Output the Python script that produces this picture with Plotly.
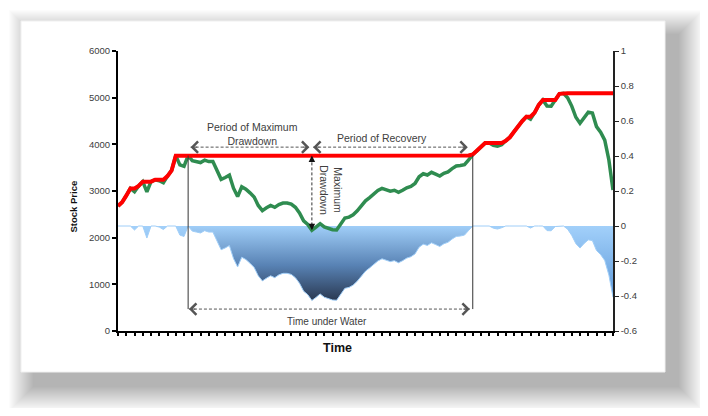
import numpy as np
import plotly.graph_objects as go

# data
time = list(range(121))
price = [2679, 2760, 2900, 3055, 2985, 3110, 3200, 2980, 3200, 3240,
         3220, 3175, 3320, 3440, 3755, 3560, 3530, 3760, 3650, 3630,
         3610, 3660, 3630, 3630, 3450, 3250, 3290, 3340, 3060, 2880,
         3090, 3040, 2960, 2870, 2690, 2580, 2640, 2690, 2650, 2710,
         2743, 2743, 2720, 2650, 2530, 2360, 2285, 2160, 2225, 2300,
         2230, 2200, 2170, 2165, 2290, 2420, 2440, 2490, 2575, 2680,
         2790, 2860, 2945, 3010, 3055, 3020, 2995, 3015, 2970, 3015,
         3070, 3100, 3160, 3306, 3370, 3343, 3400, 3360, 3320, 3379,
         3410, 3480, 3536, 3545, 3565, 3665, 3785, 3860, 3940, 4030,
         4030, 3980, 3960, 3990, 4075, 4151, 4270, 4390, 4500, 4593,
         4540, 4680, 4845, 4950, 4820, 4815, 4935, 5082, 5093, 5000,
         4820, 4580, 4451, 4585, 4690, 4670, 4380, 4260, 4090, 3664,
         3021]
time_ticks = list(range(0, 121, 2))
price_ticks = [0, 1000, 2000, 3000, 4000, 5000, 6000]
dd_ticks = [-0.6, -0.4, -0.2, 0, 0.2, 0.4, 0.6, 0.8, 1]
dd_tick_labels = ['-0.6', '-0.4', '-0.2', '0', '0.2', '0.4', '0.6', '0.8', '1']

FONT = 'Liberation Sans, Arial, sans-serif'
TXT = '#404040'
ARROW = '#555555'

p = np.array(price, dtype=float)
peak = np.maximum.accumulate(p)
drawdown = p / peak - 1

trough = int(np.argmin(drawdown))
start = int(np.argmax(p[:trough + 1]))
recover = trough + int(np.argmax(p[trough:] >= peak[trough]))

fig = go.Figure()

# underwater area, split so the main drawdown gets the darker gradient
light = [[0, 'rgb(88,148,214)'], [1, 'rgb(162,208,250)']]
dark = [[0, 'rgb(36,48,70)'], [0.5, 'rgb(88,130,180)'], [1, 'rgb(160,206,248)']]
for a, b, cs in [(0, start, light), (start, recover, dark), (recover, len(time) - 1, light)]:
    fig.add_trace(go.Scatter(x=time[a:b + 1], y=drawdown[a:b + 1], yaxis='y',
                             mode='lines', fill='tozeroy',
                             line=dict(color='rgb(160,206,248)', width=1),
                             fillgradient=dict(type='vertical', colorscale=cs,
                                               start=-0.45, stop=0),
                             showlegend=False, hoverinfo='skip'))

fig.add_trace(go.Scatter(x=time, y=p, yaxis='y2', mode='lines',
                         line=dict(color='#2f8c50', width=3.5),
                         showlegend=False, name='Price'))
fig.add_trace(go.Scatter(x=time, y=peak, yaxis='y2', mode='lines',
                         line=dict(color='#ff0000', width=4),
                         showlegend=False, name='Running max'))

# plot area on screen (the page body adds an 8px margin)
BODY = 8
L, T, W, H = 118, 51, 495, 280


def px(xs):
    return (xs - L) / W


def py(ys):
    return (T + H - ys) / H


shapes = []
for i in range(25, 0, -1):
    shapes.append(dict(type='rect', xref='paper', yref='paper', layer='below',
                       x0=px(21 + 13 - i), x1=px(665 + 13 + i),
                       y0=py(372 + 14 + i), y1=py(21 + 14 - i),
                       fillcolor='rgba(0,0,0,0.012)', line=dict(width=0)))
shapes.append(dict(type='rect', xref='paper', yref='paper', layer='below',
                   x0=px(21), x1=px(665), y0=py(372), y1=py(21),
                   fillcolor='white', line=dict(color='#f0f0f0', width=1)))

low = 470
arrow_y = 3940
# vertical markers at the peak and the recovery
for xv in (start, recover):
    shapes.append(dict(type='line', xref='x', yref='y2', x0=xv, x1=xv,
                       y0=peak[start], y1=low, line=dict(color='#333333', width=1)))
dash = '3px,2px'
segs = [(start + 0.6, trough - 0.6, arrow_y), (trough + 0.3, recover - 1.2, arrow_y),
        (start + 0.2, recover - 0.7, low)]
for x0, x1, yv in segs:
    shapes.append(dict(type='line', xref='x', yref='y2', x0=x0, x1=x1, y0=yv, y1=yv,
                       line=dict(color=ARROW, width=1, dash=dash)))
shapes.append(dict(type='line', xref='x', yref='y2', x0=trough, x1=trough,
                   y0=peak[start] - 40, y1=p[trough] + 40,
                   line=dict(color='#333333', width=1, dash=dash)))

ann = []
for x0, x1, yv in segs:
    for tip, off in ((x0, 8), (x1, -8)):
        ann.append(dict(x=tip, y=yv, xref='x', yref='y2', text='', showarrow=True,
                        ax=off, ay=0, arrowhead=4, arrowsize=2.2, arrowwidth=1,
                        arrowcolor=ARROW))
for tip, off in ((peak[start], 8), (p[trough], -8)):
    ann.append(dict(x=trough, y=tip, xref='x', yref='y2', text='', showarrow=True,
                    ax=0, ay=off, arrowhead=2, arrowsize=1.3, arrowwidth=1,
                    arrowcolor='#111111'))

tf = dict(family=FONT, size=10.5, color=TXT)
ann += [
    dict(x=32.5, y=4211, xref='x', yref='y2', text='Period of Maximum<br>Drawdown',
         showarrow=False, font=tf),
    dict(x=64, y=4136, xref='x', yref='y2', text='Period of Recovery',
         showarrow=False, font=tf),
    dict(x=51.6, y=3021, xref='x', yref='y2', text='Maximum<br>Drawdown',
         showarrow=False, font=tf, textangle=90),
    dict(x=50.7, y=214, xref='x', yref='y2', text='Time under Water',
         showarrow=False, font=dict(family=FONT, size=10, color=TXT)),
    dict(x=px(337), y=py(357), xref='paper', yref='paper', text='<b>Time</b>',
         showarrow=False, font=dict(family=FONT, size=12.5, color='#111111')),
    dict(x=px(65), y=py(207), xref='paper', yref='paper', text='<b>Stock Price</b>',
         showarrow=False, textangle=-90, font=dict(family=FONT, size=9.5, color='#111111')),
]

tick_font = dict(family=FONT, size=9.5, color=TXT)
fw, fh = 708 - 2 * BODY, 416 - 2 * BODY
fig.update_layout(
    width=fw, height=fh,
    margin=dict(l=L - BODY, r=fw - (L - BODY) - W, t=T - BODY, b=fh - (T - BODY) - H),
    paper_bgcolor='white', plot_bgcolor='rgba(0,0,0,0)',
    font=dict(family=FONT),
    shapes=shapes, annotations=ann,
    xaxis=dict(range=[0, 120], showgrid=False, zeroline=False, showline=True,
               linecolor='black', linewidth=2, ticks='outside', tickvals=time_ticks,
               ticklen=3, tickwidth=2, tickcolor='black', showticklabels=False),
    yaxis=dict(side='right', range=[-0.6, 1], tickvals=dd_ticks, ticktext=dd_tick_labels,
               showgrid=False, zeroline=False, showline=True, linecolor='#222222',
               linewidth=1.5, ticks='outside', ticklen=4, tickcolor='#222222',
               tickfont=tick_font),
    yaxis2=dict(side='left', overlaying='y', range=[0, 6000], tickvals=price_ticks,
                showgrid=False, zeroline=False, showline=True, linecolor='black',
                linewidth=2, ticks='outside', ticklen=4, tickcolor='black',
                tickwidth=1.5, tickfont=tick_font),
)

fig.write_html('out.html')
